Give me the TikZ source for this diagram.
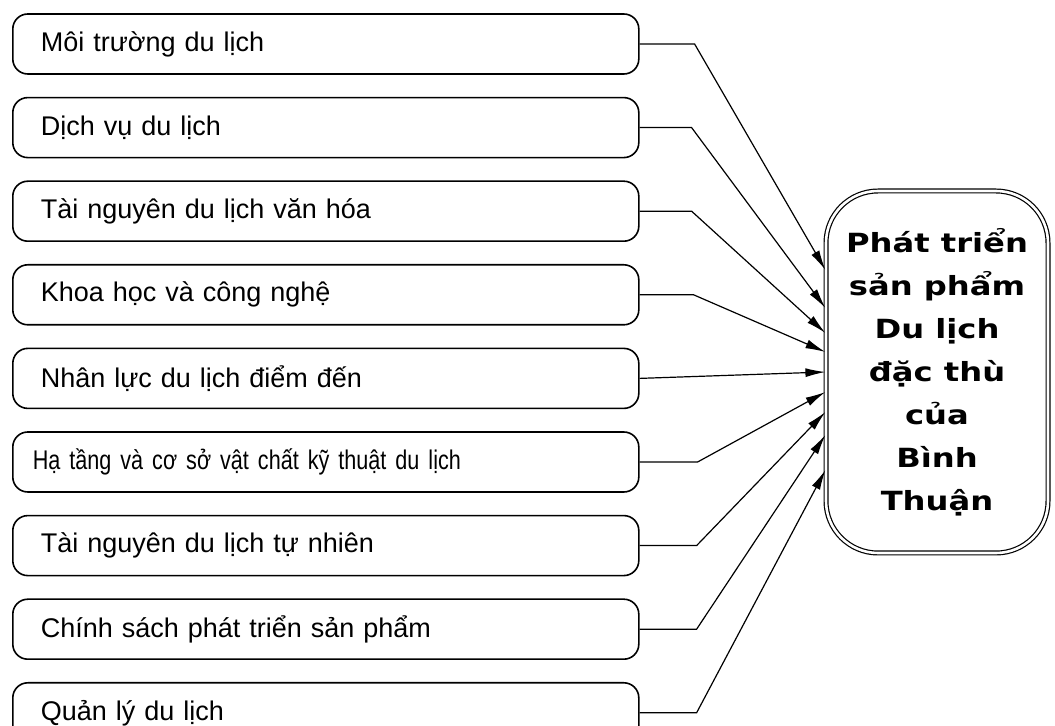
\documentclass[tikz,border=0pt]{standalone}
\usepackage{fontspec}
\setmainfont{Liberation Sans}
\newfontfamily\hepfont[FakeStretch=0.8]{Liberation Sans}
\newfontfamily\dichfont[FakeStretch=1.22]{DejaVu Sans}
\usetikzlibrary{arrows.meta,positioning,calc}

\begin{document}
\begin{tikzpicture}[x=0.5pt, y=-0.5pt,
        node distance=11pt,
        yeuto/.style={draw, line width=0.8pt, rounded corners=7.5pt, minimum width=313pt, minimum height=30pt,
            inner xsep=14pt, text width=285pt, align=left, font=\fontsize{13.5}{16}\selectfont},
        muctieu/.style={draw, double, double distance=1.3pt, line width=0.6pt, rounded corners=26pt,
            minimum width=111pt, minimum height=181pt, align=center,
            font=\dichfont\bfseries\fontsize{13.2}{21.5}\selectfont},
        muiten/.style={-{Latex[length=10pt, width=4.5pt]}, line width=0.6pt}
    ]
        \useasboundingbox (0,0) rectangle (1055,726);

        \node[yeuto, anchor=west] (b1) at (12,44) {Môi trường du lịch};
        \node[yeuto, below=of b1] (b2) {Dịch vụ du lịch};
        \node[yeuto, below=of b2] (b3) {Tài nguyên du lịch văn hóa};
        \node[yeuto, below=of b3] (b4) {Khoa học và công nghệ};
        \node[yeuto, below=of b4] (b5) {Nhân lực du lịch điểm đến};
        \node[yeuto, below=of b5, inner xsep=10pt, text width=293pt] (b6) {\hepfont Hạ tầng và cơ sở vật chất kỹ thuật du lịch};
        \node[yeuto, below=of b6] (b7) {Tài nguyên du lịch tự nhiên};
        \node[yeuto, below=of b7] (b8) {Chính sách phát triển sản phẩm};
        \node[yeuto, below=of b8] (b9) {Quản lý du lịch};

        \node[muctieu] (goal) at (937,372) {Phát triển\\sản phẩm\\Du lịch\\đặc thù\\của\\Bình\\Thuận};

        \draw[muiten] (b1.east) -- ++(55,0) -- ($(goal.west)+(0,-102)$);
        \draw[muiten] (b2.east) -- ++(52,0) -- ($(goal.west)+(0,-64)$);
        \draw[muiten] (b3.east) -- ++(52,0) -- ($(goal.west)+(0,-39)$);
        \draw[muiten] (b4.east) -- ++(54,0) -- ($(goal.west)+(0,-20)$);
        \draw[muiten] (b5.east) -- (goal.west);
        \draw[muiten] (b6.east) -- ++(58,0) -- ($(goal.west)+(0,20)$);
        \draw[muiten] (b7.east) -- ++(57,0) -- ($(goal.west)+(0,40)$);
        \draw[muiten] (b8.east) -- ++(57,0) -- ($(goal.west)+(0,63)$);
        \draw[muiten] (b9.east) -- ++(57,0) -- ($(goal.west)+(0,98)$);
    \end{tikzpicture}
\end{document}
